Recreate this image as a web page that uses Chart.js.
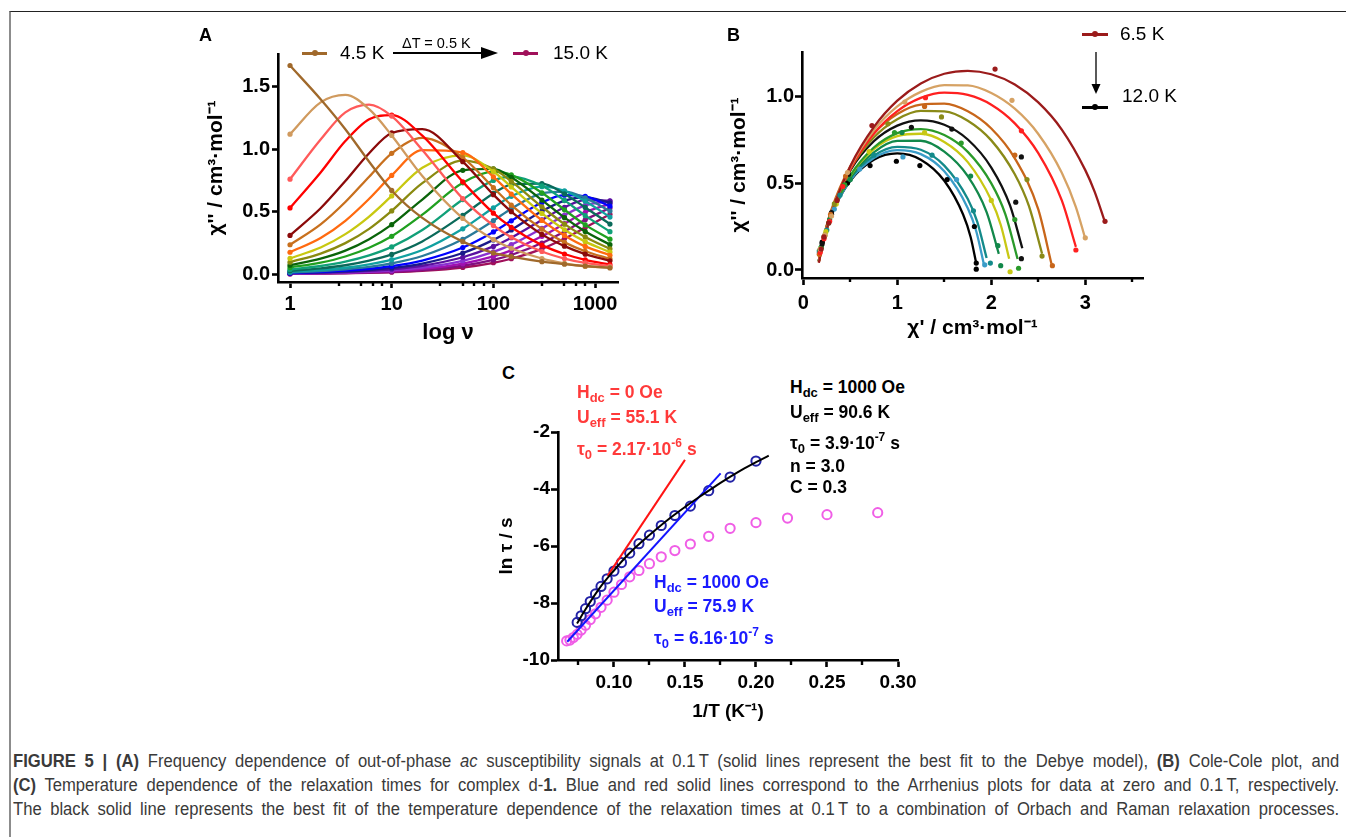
<!DOCTYPE html>
<html>
<head>
<meta charset="utf-8">
<script src="https://cdn.jsdelivr.net/npm/chart.js@4.4.1/dist/chart.umd.min.js"></script>
<style>
  html, body { margin: 0; padding: 0; background: #fff; }
  body { width: 1346px; height: 837px; position: relative; overflow: hidden; font-family: "Liberation Sans", Arial, sans-serif; }
  .frame { position: absolute; left: 9px; top: 11px; width: 1340px; height: 830px; border-top: 1.5px solid #222; border-left: 2px solid #8c8c8c; }
  canvas { position: absolute; }
  .t { position: absolute; white-space: nowrap; line-height: 20px; color: #000; }
  .letter { font-weight: bold; font-size: 18px; }
  .leg { font-size: 19px; }
  .ann { font-weight: bold; font-size: 17.5px; }
  .ann sub { font-size: 13px; vertical-align: -4px; line-height: 0; }
  .ann sup { font-size: 12px; vertical-align: 8px; line-height: 0; }
  .red { color: #ff3a3a; }
  .blue { color: #1a1aff; }
  .sw { position: absolute; height: 2.5px; }
  .dot { position: absolute; width: 6px; height: 6px; border-radius: 50%; }
  .cap { position: absolute; left: 13px; width: 1396px; top: 749px; font-size: 17.5px; line-height: 24px; color: #3a3a3a;
         text-align: justify; text-align-last: justify; transform: scaleX(0.95); transform-origin: 0 0; }
</style>
</head>
<body>
<div class="frame"></div>

<canvas id="chartA" width="440" height="312" style="left:190px;top:40px"></canvas>
<canvas id="chartB" width="460" height="320" style="left:700px;top:30px"></canvas>
<canvas id="chartC" width="440" height="330" style="left:490px;top:400px"></canvas>

<div class="t letter" style="left:199px;top:25px">A</div>
<div class="t letter" style="left:727px;top:25px">B</div>
<div class="t letter" style="left:502px;top:363px">C</div>

<!-- legend A -->
<div class="sw" style="left:302px;top:52px;width:25px;background:#a0692b"></div>
<div class="dot" style="left:311.5px;top:50px;background:#a0692b"></div>
<div class="t leg" style="left:340px;top:43px">4.5 K</div>
<div class="t" style="left:402px;top:33px;font-size:14.5px">&Delta;T = 0.5 K</div>
<svg style="position:absolute;left:393px;top:46px" width="106" height="14">
  <line x1="0" y1="7" x2="90" y2="7" stroke="#000" stroke-width="2"/>
  <polygon points="88,1 105,7 88,13" fill="#000"/>
</svg>
<div class="sw" style="left:513px;top:52px;width:25px;background:#a0105a"></div>
<div class="dot" style="left:522.5px;top:50px;background:#a0105a"></div>
<div class="t leg" style="left:553px;top:43px">15.0 K</div>

<!-- legend B -->
<div class="sw" style="left:1082px;top:33px;width:26px;background:#9b1b1b"></div>
<div class="dot" style="left:1092px;top:31px;background:#9b1b1b"></div>
<div class="t leg" style="left:1120px;top:24px">6.5 K</div>
<svg style="position:absolute;left:1090px;top:52px" width="12" height="44">
  <line x1="6" y1="0" x2="6" y2="34" stroke="#000" stroke-width="1.3"/>
  <polygon points="1.5,32 10.5,32 6,42" fill="#000"/>
</svg>
<div class="t leg" style="left:1122px;top:86px">12.0 K</div>
<div class="sw" style="left:1082px;top:106px;width:26px;background:#000"></div>
<div class="dot" style="left:1092px;top:104px;background:#000"></div>

<!-- annotations C -->
<div class="t ann red" style="left:577px;top:382px">H<sub>dc</sub> = 0 Oe</div>
<div class="t ann red" style="left:577px;top:407px">U<sub>eff</sub> = 55.1 K</div>
<div class="t ann red" style="left:577px;top:439px">&tau;<sub>0</sub> = 2.17&middot;10<sup>-6</sup> s</div>

<div class="t ann" style="left:790px;top:377px">H<sub>dc</sub> = 1000 Oe</div>
<div class="t ann" style="left:790px;top:402px">U<sub>eff</sub> = 90.6 K</div>
<div class="t ann" style="left:790px;top:433px">&tau;<sub>0</sub> = 3.9&middot;10<sup>-7</sup> s</div>
<div class="t ann" style="left:790px;top:456px">n = 3.0</div>
<div class="t ann" style="left:790px;top:477px">C = 0.3</div>

<div class="t ann blue" style="left:654px;top:572px">H<sub>dc</sub> = 1000 Oe</div>
<div class="t ann blue" style="left:654px;top:596px">U<sub>eff</sub> = 75.9 K</div>
<div class="t ann blue" style="left:654px;top:628px">&tau;<sub>0</sub> = 6.16&middot;10<sup>-7</sup> s</div>

<div class="cap">
<b>FIGURE 5 | (A)</b> Frequency dependence of out-of-phase <i>ac</i> susceptibility signals at 0.1&thinsp;T (solid lines represent the best fit to the Debye model), <b>(B)</b> Cole-Cole plot, and<br>
<b>(C)</b> Temperature dependence of the relaxation times for complex d-<b>1.</b> Blue and red solid lines correspond to the Arrhenius plots for data at zero and 0.1&thinsp;T, respectively.<br>
The black solid line represents the best fit of the temperature dependence of the relaxation times at 0.1&thinsp;T to a combination of Orbach and Raman relaxation processes.
</div>

<script>
const FONT = '"Liberation Sans", Arial, Helvetica, sans-serif';

// ---------- panel A : chi'' vs frequency ----------
const freqA = [1, 2, 3.5, 6, 10, 20, 50, 100, 150, 300, 500, 800, 1400];
const markA = [1, 0, 0, 0, 1, 0, 1, 1, 1, 1, 1, 1, 1]; // measured frequencies get a dot
const tempsA = [4.5, 5.0, 5.5, 6.0, 6.5, 7.0, 7.5, 8.0, 8.5, 9.0, 9.5, 10.0, 10.5, 11.0, 11.5, 12.0, 12.5, 13.0, 13.5, 14.0, 14.5, 15.0];
const chiA45 = [1.67, 1.40, 1.16, 0.90, 0.67, 0.45, 0.26, 0.17, 0.14, 0.10, 0.08, 0.065, 0.05];
const chiA50 = [1.12, 1.375, 1.435, 1.32, 1.11, 0.785, 0.446, 0.277, 0.207, 0.125, 0.086, 0.062, 0.055];
const chiA55 = [0.76, 1.078, 1.295, 1.357, 1.265, 0.994, 0.604, 0.389, 0.295, 0.181, 0.125, 0.09, 0.065];
const chiA60 = [0.53, 0.814, 1.065, 1.24, 1.273, 1.108, 0.739, 0.488, 0.375, 0.232, 0.161, 0.114, 0.076];
const chiA65 = [0.31, 0.527, 0.745, 0.968, 1.13, 1.161, 0.90, 0.636, 0.50, 0.318, 0.224, 0.16, 0.107];
const chiA70 = [0.235, 0.398, 0.577, 0.78, 0.967, 1.09, 0.932, 0.692, 0.552, 0.36, 0.254, 0.183, 0.122];
const chiA75 = [0.175, 0.289, 0.427, 0.603, 0.79, 0.992, 0.973, 0.778, 0.641, 0.43, 0.31, 0.222, 0.151];
const chiA80 = [0.126, 0.213, 0.32, 0.461, 0.626, 0.852, 0.95, 0.821, 0.698, 0.486, 0.355, 0.26, 0.177];
const chiA85 = [0.096, 0.164, 0.248, 0.362, 0.506, 0.728, 0.909, 0.843, 0.743, 0.539, 0.40, 0.298, 0.203];
const chiA90 = [0.072, 0.124, 0.188, 0.28, 0.396, 0.597, 0.831, 0.843, 0.775, 0.593, 0.452, 0.341, 0.236];
const chiA95 = [0.053, 0.092, 0.141, 0.211, 0.303, 0.476, 0.731, 0.82, 0.794, 0.651, 0.515, 0.394, 0.28];
const chiA100 = [0.037, 0.065, 0.10, 0.15, 0.218, 0.353, 0.597, 0.75, 0.78, 0.707, 0.59, 0.468, 0.34];
const chiA105 = [0.027, 0.046, 0.071, 0.108, 0.158, 0.262, 0.47, 0.646, 0.717, 0.724, 0.642, 0.534, 0.401];
const chiA110 = [0.019, 0.033, 0.051, 0.078, 0.116, 0.193, 0.363, 0.531, 0.623, 0.70, 0.666, 0.584, 0.457];
const chiA115 = [0.014, 0.024, 0.039, 0.058, 0.086, 0.145, 0.279, 0.428, 0.524, 0.646, 0.66, 0.61, 0.505];
const chiA120 = [0.010, 0.018, 0.028, 0.043, 0.064, 0.109, 0.213, 0.338, 0.427, 0.573, 0.632, 0.622, 0.544];
const chiA125 = [0.008, 0.014, 0.022, 0.033, 0.05, 0.085, 0.169, 0.274, 0.354, 0.504, 0.589, 0.614, 0.571];
const chiA130 = [0.006, 0.011, 0.017, 0.026, 0.039, 0.067, 0.135, 0.222, 0.292, 0.434, 0.535, 0.593, 0.587];
const chiA135 = [0.005, 0.009, 0.013, 0.02, 0.031, 0.053, 0.107, 0.178, 0.236, 0.366, 0.472, 0.551, 0.584];
const chiA140 = [0.004, 0.007, 0.01, 0.016, 0.025, 0.042, 0.084, 0.142, 0.19, 0.303, 0.404, 0.495, 0.563];
const chiA145 = [0.003, 0.006, 0.008, 0.013, 0.019, 0.033, 0.067, 0.114, 0.153, 0.249, 0.342, 0.435, 0.529];
const chiA150 = [0.002, 0.004, 0.007, 0.01, 0.015, 0.026, 0.053, 0.091, 0.123, 0.202, 0.285, 0.373, 0.479];
const seriesA = [chiA45, chiA50, chiA55, chiA60, chiA65, chiA70, chiA75, chiA80, chiA85, chiA90, chiA95,
  chiA100, chiA105, chiA110, chiA115, chiA120, chiA125, chiA130, chiA135, chiA140, chiA145, chiA150];
const colorsA = ['#a0692b', '#d09a5e', '#ff5a5a', '#ff0000', '#8b0a0a', '#c8701e', '#ff6a10', '#c8c810',
  '#8a8a10', '#0a640a', '#20a020', '#10a078', '#0a6a5a', '#10a0a0', '#2a7a9a', '#0000ff', '#1a1a8a',
  '#5a10a0', '#8a30d0', '#a010b0', '#801080', '#a0105a'];
const xTicksA = [1, 10, 100, 1000];
const xMinorA = [3, 5, 6.5, 8, 30, 50, 65, 80, 300, 500, 650, 800];
const yTicksA = [0, 0.5, 1.0, 1.5];

// ---------- panel B : Cole-Cole ----------
const tempsB = [6.5, 7.0, 7.5, 8.0, 8.5, 9.0, 9.5, 10.0, 10.5, 11.0, 11.5, 12.0];
const arc65 = [[0.165, 0.042], [0.2, 0.13], [0.3, 0.327], [0.5, 0.597], [0.75, 0.821], [1.0, 0.973], [1.25, 1.072], [1.5, 1.128], [1.75, 1.145], [2.0, 1.125], [2.25, 1.066], [2.5, 0.963], [2.75, 0.807], [3.0, 0.574], [3.1, 0.449], [3.21, 0.274]];
const arc70 = [[0.165, 0.045], [0.2, 0.135], [0.3, 0.33], [0.5, 0.591], [0.75, 0.803], [1.0, 0.94], [1.25, 1.024], [1.5, 1.063], [1.75, 1.061], [2.0, 1.017], [2.25, 0.927], [2.5, 0.782], [2.75, 0.559], [2.9, 0.362], [3.0, 0.18]];
const arc75 = [[0.165, 0.045], [0.2, 0.133], [0.3, 0.324], [0.5, 0.579], [0.75, 0.783], [1.0, 0.913], [1.25, 0.989], [1.5, 1.019], [1.75, 1.006], [2.0, 0.95], [2.25, 0.843], [2.5, 0.672], [2.75, 0.40], [2.9, 0.133]];
const arc80 = [[0.165, 0.052], [0.2, 0.15], [0.3, 0.348], [0.5, 0.596], [0.75, 0.785], [1.0, 0.897], [1.25, 0.951], [1.5, 0.956], [1.75, 0.912], [2.0, 0.813], [2.25, 0.642], [2.5, 0.348], [2.64, 0.036]];
const arc85 = [[0.165, 0.05], [0.2, 0.145], [0.3, 0.338], [0.5, 0.579], [0.75, 0.762], [1.0, 0.867], [1.25, 0.915], [1.5, 0.912], [1.75, 0.858], [2.0, 0.745], [2.25, 0.55], [2.4, 0.368], [2.54, 0.094]];
const arc90 = [[0.165, 0.053], [0.2, 0.15], [0.3, 0.34], [0.5, 0.572], [0.75, 0.74], [1.0, 0.83], [1.25, 0.86], [1.5, 0.835], [1.75, 0.75], [2.0, 0.589], [2.2, 0.37], [2.33, 0.125]];
const arc95 = [[0.165, 0.048], [0.2, 0.139], [0.3, 0.32], [0.5, 0.543], [0.75, 0.704], [1.0, 0.787], [1.25, 0.81], [1.5, 0.776], [1.75, 0.679], [2.0, 0.498], [2.15, 0.32], [2.28, 0.063]];
const arc100 = [[0.165, 0.05], [0.2, 0.142], [0.3, 0.322], [0.5, 0.541], [0.75, 0.695], [1.0, 0.77], [1.25, 0.783], [1.5, 0.736], [1.75, 0.62], [2.0, 0.401], [2.1, 0.26], [2.19, 0.065]];
const arc105 = [[0.165, 0.05], [0.2, 0.142], [0.3, 0.319], [0.5, 0.531], [0.75, 0.676], [1.0, 0.742], [1.25, 0.743], [1.5, 0.68], [1.75, 0.539], [1.95, 0.333], [2.08, 0.093]];
const arc110 = [[0.165, 0.053], [0.2, 0.147], [0.3, 0.322], [0.5, 0.525], [0.75, 0.657], [1.0, 0.708], [1.25, 0.691], [1.5, 0.60], [1.75, 0.408], [1.85, 0.278], [1.95, 0.069]];
const arc115 = [[0.165, 0.052], [0.2, 0.144], [0.3, 0.316], [0.5, 0.515], [0.75, 0.643], [1.0, 0.689], [1.25, 0.666], [1.5, 0.567], [1.75, 0.355], [1.84, 0.223], [1.92, 0.036]];
const arc120 = [[0.165, 0.055], [0.2, 0.148], [0.3, 0.319], [0.5, 0.513], [0.75, 0.634], [1.0, 0.67], [1.25, 0.634], [1.5, 0.513], [1.7, 0.319], [1.78, 0.19], [1.84, 0.038]];
const dots65 = [[3.21, 0.28], [2.04, 1.155], [0.73, 0.83], [0.36, 0.40], [0.27, 0.27], [0.22, 0.19], [0.19, 0.12]];
const dots70 = [[3.0, 0.185], [2.22, 0.975], [1.08, 0.965], [0.47, 0.56], [0.30, 0.31], [0.23, 0.20], [0.18, 0.12]];
const dots75 = [[2.9, 0.115], [2.32, 0.80], [1.3, 0.99], [0.42, 0.48], [0.28, 0.28], [0.22, 0.18], [0.18, 0.10]];
const dots80 = [[2.65, 0.025], [2.25, 0.66], [1.29, 0.94], [0.45, 0.54], [0.29, 0.32], [0.22, 0.19], [0.17, 0.09]];
const dots85 = [[2.54, 0.08], [2.38, 0.52], [1.47, 0.88], [0.9, 0.84], [0.33, 0.38], [0.23, 0.2], [0.18, 0.11]];
const dots90 = [[2.32, 0.065], [2.26, 0.39], [2.32, 0.65], [1.58, 0.81], [1.15, 0.82], [0.48, 0.55], [0.3, 0.33], [0.2, 0.15]];
const dots95 = [[2.29, 0.01], [2.25, 0.29], [1.68, 0.73], [0.97, 0.79], [0.44, 0.49], [0.27, 0.27], [0.19, 0.13]];
const dots100 = [[2.2, -0.01], [2.0, 0.40], [1.29, 0.79], [0.7, 0.68], [0.35, 0.38], [0.24, 0.22], [0.18, 0.12]];
const dots105 = [[2.1, 0.025], [2.07, 0.14], [1.78, 0.54], [1.05, 0.79], [0.5, 0.52], [0.28, 0.29], [0.19, 0.13]];
const dots110 = [[1.99, 0.04], [1.81, 0.34], [1.37, 0.66], [0.75, 0.66], [0.39, 0.43], [0.25, 0.23], [0.17, 0.11]];
const dots115 = [[1.93, 0.03], [1.63, 0.52], [1.06, 0.65], [0.6, 0.58], [0.33, 0.35], [0.22, 0.19], [0.17, 0.1]];
const dots120 = [[1.84, 0.005], [1.84, 0.04], [1.82, 0.25], [1.53, 0.52], [1.24, 0.60], [0.99, 0.625], [0.71, 0.60], [0.47, 0.50], [0.3, 0.32], [0.2, 0.16]];
const arcsB = [arc65, arc70, arc75, arc80, arc85, arc90, arc95, arc100, arc105, arc110, arc115, arc120];
const dotsB = [dots65, dots70, dots75, dots80, dots85, dots90, dots95, dots100, dots105, dots110, dots115, dots120];
const colorsB = ['#9b1b1b', '#d6a264', '#ff2020', '#c8661a', '#8a8a18', '#111111', '#2a9a2a', '#c8c814',
  '#12884a', '#138a8a', '#3a9cc8', '#000000'];
const xTicksB = [0, 1, 2, 3];
const xMinorB = [0.5, 1.5, 2.5, 3.5];
const yTicksB = [0, 0.5, 1.0];

// ---------- panel C : ln tau vs 1/T ----------
const invT0 = [0.2857, 0.25, 0.2222, 0.20, 0.1818, 0.1667, 0.1538, 0.1429, 0.1333, 0.125, 0.1176, 0.1111,
  0.1053, 0.10, 0.0952, 0.0909, 0.087, 0.0833, 0.08, 0.0769, 0.0741, 0.0714, 0.069, 0.0667];
const lnTau0 = [-4.83, -4.90, -5.02, -5.18, -5.38, -5.66, -5.93, -6.16, -6.38, -6.62, -6.86, -7.08,
  -7.35, -7.62, -7.90, -8.15, -8.38, -8.58, -8.78, -8.95, -9.10, -9.21, -9.30, -9.33];
const invT1000 = [0.0741, 0.0769, 0.08, 0.0833, 0.087, 0.0909, 0.0952, 0.10, 0.1053, 0.1111, 0.1176,
  0.125, 0.1333, 0.1429, 0.1538, 0.1667, 0.1818, 0.20];
const lnTau1000 = [-8.68, -8.45, -8.20, -7.95, -7.68, -7.42, -7.15, -6.88, -6.58, -6.25, -5.92,
  -5.62, -5.28, -4.93, -4.60, -4.06, -3.58, -3.02];
const fitOrbachRaman = [[0.074, -8.72], [0.08, -8.22], [0.09, -7.47], [0.10, -6.86], [0.11, -6.30], [0.12, -5.83],
  [0.13, -5.40], [0.14, -5.00], [0.15, -4.63], [0.16, -4.28], [0.17, -3.95], [0.18, -3.63], [0.19, -3.33],
  [0.20, -3.06], [0.209, -2.83]];
const arrhenius0 = [[0.0955, -7.05], [0.150, -2.98]];
const arrhenius1000 = [[0.0671, -9.36], [0.1751, -3.45]];
const xTicksC = [0.10, 0.15, 0.20, 0.25, 0.30];
const xMinorC = [0.075, 0.125, 0.175, 0.225, 0.275];
const yTicksC = [-10, -8, -6, -4, -2];

// minor tick marks under the x axis
const minorTicks = {
  id: 'minorTicks',
  afterDatasetsDraw(chart, args, o) {
    if (!o || !o.x) return;
    const { ctx, chartArea, scales } = chart;
    ctx.save();
    ctx.strokeStyle = '#000';
    ctx.lineWidth = 2.4;
    o.x.forEach(v => {
      const px = Math.round(scales.x.getPixelForValue(v));
      ctx.beginPath();
      ctx.moveTo(px, chartArea.bottom);
      ctx.lineTo(px, chartArea.bottom + o.len);
      ctx.stroke();
    });
    ctx.restore();
  }
};
Chart.register(minorTicks);

function axis(cfg) {
  return {
    type: cfg.type || 'linear',
    min: cfg.min,
    max: cfg.max,
    afterFit: cfg.fit,
    afterBuildTicks: s => { s.ticks = cfg.ticks.map(v => ({ value: v })); },
    border: { display: true, color: '#000', width: 2.6 },
    grid: { display: true, drawOnChartArea: false, drawTicks: true, tickLength: cfg.tl || 6, tickWidth: 2.6, tickColor: '#000' },
    ticks: { color: '#000', autoSkip: false, maxRotation: 0, padding: cfg.pad,
      font: { family: FONT, size: cfg.size || 20, weight: 'bold' }, callback: cfg.fmt },
    title: { display: true, text: cfg.title, color: '#000', padding: cfg.tpad,
      font: { family: FONT, size: cfg.tsize, weight: 'bold' } }
  };
}

const common = { responsive: false, animation: false, devicePixelRatio: 1, events: [] };

new Chart(document.getElementById('chartA'), {
  type: 'line',
  data: {
    datasets: seriesA.map((vals, i) => ({
      label: tempsA[i].toFixed(1) + ' K',
      data: vals.map((v, j) => ({ x: freqA[j], y: v })),
      borderColor: colorsA[i],
      backgroundColor: colorsA[i],
      borderWidth: 2.3,
      pointRadius: c => markA[c.dataIndex] ? 2.6 : 0,
      pointBorderWidth: 0,
      cubicInterpolationMode: 'monotone',
      fill: false
    }))
  },
  options: Object.assign({}, common, {
    layout: { padding: { top: 13, right: 12, left: 0, bottom: 0 } },
    plugins: { legend: { display: false }, tooltip: { enabled: false }, minorTicks: { x: xMinorA, len: 4 } },
    scales: {
      x: axis({ type: 'logarithmic', min: 0.762, max: 1680, ticks: xTicksA, fit: s => { s.height = 70; },
        pad: 4, fmt: v => String(v), title: 'log \u03bd', tsize: 22, tpad: { bottom: 6 } }),
      y: axis({ min: -0.063, max: 1.762, ticks: yTicksA, fit: s => { s.width = 88; },
        pad: 2, fmt: v => v.toFixed(1), title: "\u03c7'' / cm\u00b3\u00b7mol\u207b\u00b9", tsize: 21, tpad: { top: 14 } })
    }
  })
});

const dsB = [];
dotsB.forEach((pts, i) => dsB.push({
  data: pts, showLine: false, pointRadius: 2.6, pointBorderWidth: 0,
  backgroundColor: colorsB[i], borderColor: colorsB[i]
}));
arcsB.forEach((pts, i) => dsB.push({
  label: tempsB[i].toFixed(1) + ' K',
  data: pts, showLine: true, pointRadius: 0, borderWidth: 2.3,
  borderColor: colorsB[i], backgroundColor: colorsB[i], cubicInterpolationMode: 'monotone'
}));

new Chart(document.getElementById('chartB'), {
  type: 'scatter',
  data: { datasets: dsB },
  options: Object.assign({}, common, {
    layout: { padding: { top: 22, right: 17, left: 0, bottom: 0 } },
    plugins: { legend: { display: false }, tooltip: { enabled: false }, minorTicks: { x: xMinorB, len: 4 } },
    scales: {
      x: axis({ min: -0.014, max: 3.614, ticks: xTicksB, fit: s => { s.height = 72; }, tl: 7,
        pad: 6, fmt: v => String(v), title: "\u03c7' / cm\u00b3\u00b7mol\u207b\u00b9", tsize: 21, tpad: { bottom: 9 } }),
      y: axis({ min: -0.046, max: 1.253, ticks: yTicksB, fit: s => { s.width = 102; }, tl: 7,
        pad: 1, fmt: v => v.toFixed(1), title: "\u03c7'' / cm\u00b3\u00b7mol\u207b\u00b9", tsize: 21, tpad: { top: 27 } })
    }
  })
});

new Chart(document.getElementById('chartC'), {
  type: 'scatter',
  data: {
    datasets: [
      { label: 'fit', data: fitOrbachRaman, showLine: true, pointRadius: 0, borderWidth: 2, borderColor: '#000', cubicInterpolationMode: 'monotone' },
      { label: '0 Oe Arrhenius', data: arrhenius0, showLine: true, pointRadius: 0, borderWidth: 2, borderColor: '#ff1414' },
      { label: '1000 Oe Arrhenius', data: arrhenius1000, showLine: true, pointRadius: 0, borderWidth: 2, borderColor: '#1414ff' },
      { label: '1000 Oe', data: invT1000.map((x, i) => [x, lnTau1000[i]]), pointRadius: 4.6, pointBorderWidth: 2,
        borderColor: '#2323a6', backgroundColor: 'rgba(0,0,0,0)' },
      { label: '0 Oe', data: invT0.map((x, i) => [x, lnTau0[i]]), pointRadius: 4.6, pointBorderWidth: 2,
        borderColor: '#f05ee6', backgroundColor: 'rgba(0,0,0,0)' }
    ]
  },
  options: Object.assign({}, common, {
    layout: { padding: { top: 32, right: 32, left: 0, bottom: 0 } },
    plugins: { legend: { display: false }, tooltip: { enabled: false }, minorTicks: { x: xMinorC, len: 5 } },
    scales: {
      x: axis({ min: 0.0606, max: 0.30, ticks: xTicksC, fit: s => { s.height = 70; }, tl: 7, size: 19,
        pad: 4, fmt: v => v.toFixed(2), title: '1/T (K\u207b\u00b9)', tsize: 19, tpad: { bottom: 7 } }),
      y: axis({ min: -10, max: -2, ticks: yTicksC, fit: s => { s.width = 68; }, tl: 7, size: 19,
        pad: 1, fmt: v => String(v), title: 'ln \u03c4 / s', tsize: 19, tpad: { top: 5 } })
    }
  })
});
</script>
</body>
</html>
